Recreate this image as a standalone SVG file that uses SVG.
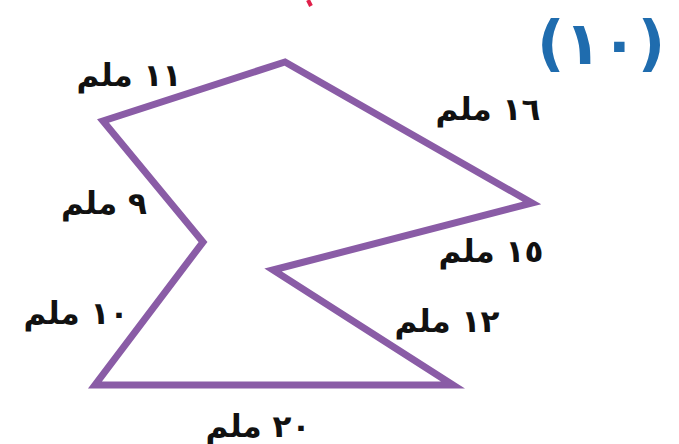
<svg xmlns="http://www.w3.org/2000/svg" width="679" height="444" viewBox="0 0 679 444">
<style>
.lbl{font-family:"DejaVu Sans",sans-serif;font-weight:bold;font-size:31px;fill:#111;text-anchor:middle}
.num{font-family:"DejaVu Sans",sans-serif;font-weight:bold;font-size:60px;fill:#1f6cae;text-anchor:middle}
.shape{fill:none;stroke:#8a5ca6;stroke-width:7;stroke-linejoin:miter}
</style>
<rect width="679" height="444" fill="#ffffff"/>
<path d="M308 0 L311 6" stroke="#e0204a" stroke-width="4" fill="none"/>
<text class="num" x="601" y="64">(١٠)</text>
<g id="connectors">
<polygon class="shape" points="285,62 532,203 273,270 453,385 95,385 203,242 103,121"/>
</g>
<g id="label-11"><text class="lbl" x="129" y="86">١١ ملم</text></g>
<g id="label-9"><text class="lbl" x="104" y="214">٩ ملم</text></g>
<g id="label-10"><text class="lbl" x="76" y="324">١٠ ملم</text></g>
<g id="label-16"><text class="lbl" x="488" y="120">١٦ ملم</text></g>
<g id="label-15"><text class="lbl" x="491" y="262">١٥ ملم</text></g>
<g id="label-12"><text class="lbl" x="447" y="332">١٢ ملم</text></g>
<g id="label-20"><text class="lbl" x="258" y="437">٢٠ ملم</text></g>
</svg>
